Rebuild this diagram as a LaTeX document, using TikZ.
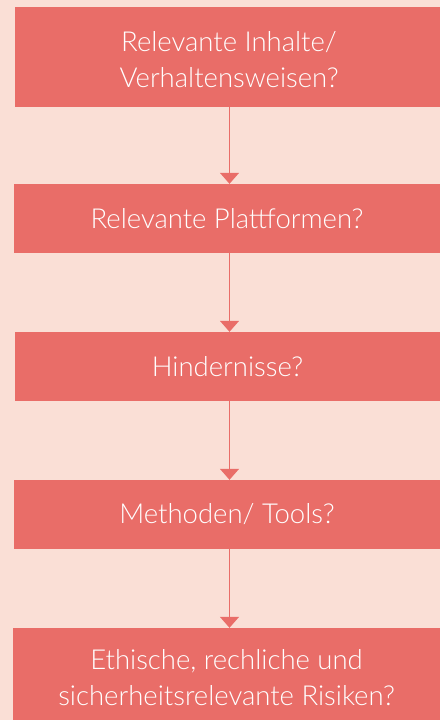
\documentclass[tikz,border=0pt]{standalone}
\usepackage{fontspec}
\setmainfont{Lato}[UprightFont=* Light]
\usetikzlibrary{arrows.meta}
\definecolor{bgpeach}{HTML}{FADFD6}
\definecolor{boxred}{HTML}{E96D68}
\tikzset{
  stepbox/.style={fill=boxred, draw=none, inner sep=0pt, text=white,
    font=\fontsize{27.5}{36}\selectfont, align=center},
  flow/.style={draw=boxred, line width=1.4pt,
    -{Triangle[width=19pt,length=11pt]}}
}
\begin{document}
\begin{tikzpicture}[x=1pt,y=-1pt]
  \fill[bgpeach] (0,0) rectangle (440,720);
  \useasboundingbox (0,0) rectangle (440,720);
  % question boxes, top to bottom
  \node[stepbox, minimum width=425pt, minimum height=100pt] (b1) at (227.5,57) {};
  \node[stepbox, fill=none] (t1) at (229,60)
    {Relevante Inhalte/\\Verhaltensweisen?};
  \node[stepbox, minimum width=426pt, minimum height=69pt] (b2) at (227,218.5)
    {Relevante Plattformen?};
  \node[stepbox, minimum width=425pt, minimum height=69pt] (b3) at (227.5,366.5)
    {Hindernisse?};
  \node[stepbox, minimum width=426pt, minimum height=69pt] (b4) at (227,514.5)
    {Methoden/ Tools?};
  \node[stepbox, minimum width=427pt, minimum height=100pt] (b5) at (226.5,678)
    {Ethische, rechliche und\\sicherheitsrelevante Risiken?};
  % connectors
  \coordinate (a1) at (229.5,107);
  \coordinate (a2) at (229.5,253);
  \coordinate (a3) at (229.5,401);
  \coordinate (a4) at (229.5,549);
  \draw[flow] (a1) -- (a1 |- b2.north);
  \draw[flow] (a2) -- (a2 |- b3.north);
  \draw[flow] (a3) -- (a3 |- b4.north);
  \draw[flow] (a4) -- (a4 |- b5.north);
\end{tikzpicture}
\end{document}
